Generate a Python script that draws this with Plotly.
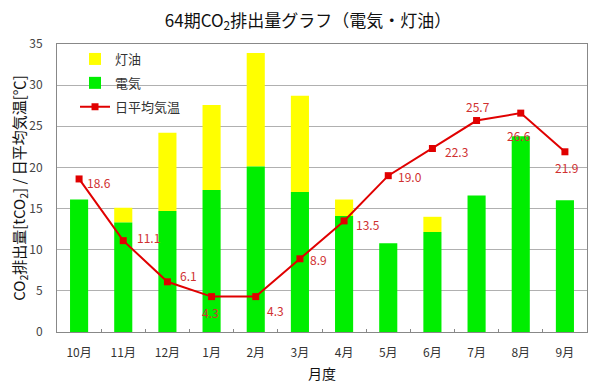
import plotly.graph_objects as go

months = ["10月", "11月", "12月", "1月", "2月", "3月", "4月", "5月", "6月", "7月", "8月", "9月"]
electric = [16.1, 13.3, 14.7, 17.25, 20.1, 17.0, 14.1, 10.8, 12.15, 16.6, 23.8, 16.0]
kerosene = [0.0, 1.8, 9.5, 10.35, 13.8, 11.7, 2.0, 0.0, 1.85, 0.0, 0.0, 0.0]
temperature = [18.6, 11.1, 6.1, 4.3, 4.3, 8.9, 13.5, 19.0, 22.3, 25.7, 26.6, 21.9]

# label placement offsets (pixels) relative to each point
label_dx = [6, 12, 11, -1, 9, 8, 10, 8, 11, 1, -2, 2]
label_dy = [-4, 3, 6, -16, -14, -1, -4, -1, -3, 14, -22, -16]
label_anchor = ["left", "left", "left", "center", "left", "left", "left", "left", "left", "center", "center", "center"]

FONT = "Noto Sans CJK JP"

fig = go.Figure()
fig.add_trace(go.Bar(x=months, y=kerosene, base=electric, name="灯油",
                     marker=dict(color="#ffff00", line=dict(width=0)),
                     width=0.41, legendgroup="a"))
fig.add_trace(go.Bar(x=months, y=electric, name="電気", marker=dict(color="#00ee00", line=dict(width=0)),
                     width=0.41, legendgroup="b"))
fig.add_trace(go.Scatter(x=months, y=temperature, name="日平均気温", mode="lines+markers",
                         line=dict(color="#e00000", width=2),
                         marker=dict(symbol="square", size=7, color="#e00000"),
                         legendgroup="c"))

for m, t, dx, dy, an in zip(months, temperature, label_dx, label_dy, label_anchor):
    fig.add_annotation(x=m, y=t, text=f"{t:.1f}", showarrow=False, xanchor=an, yanchor="middle",
                       xshift=dx, yshift=dy, font=dict(color="#d03030", size=12, family=FONT))

fig.update_layout(
    width=600, height=391,
    barmode="overlay",
    plot_bgcolor="white", paper_bgcolor="white",
    margin=dict(l=49, r=21, t=36, b=67, autoexpand=False),
    font=dict(family=FONT, size=12, color="#222"),
    title=dict(text="64期CO<sub>2</sub>排出量グラフ（電気・灯油）", x=0.5, xanchor="center",
               y=0.967, yanchor="middle", font=dict(size=17, family=FONT, color="#111")),
    legend=dict(x=0.034, y=1.0, xanchor="left", yanchor="top", bgcolor="rgba(0,0,0,0)",
                font=dict(size=13, family=FONT, color="#333"), tracegroupgap=4, traceorder="grouped"),
    showlegend=True,
)
fig.update_xaxes(
    automargin=False,
    range=[-0.5, len(months) - 0.5],
    title=dict(text="月度", font=dict(size=14, family=FONT, color="#111"), standoff=9),
    showline=True, linecolor="#888", linewidth=1, mirror=True,
    ticks="inside", tickson="boundaries", ticklen=3, tickcolor="#888",
    ticklabelstandoff=10,
    tickfont=dict(size=12, family=FONT, color="#333"),
)
fig.update_yaxes(
    automargin=False,
    title=dict(text="CO<sub>2</sub>排出量[tCO<sub>2</sub>] / 日平均気温[℃]", font=dict(size=15, family=FONT, color="#111"), standoff=1),
    range=[0, 35], dtick=5, showgrid=True, gridcolor="#b0b0b0", gridwidth=1,
    showline=True, linecolor="#888", linewidth=1, mirror=True,
    ticklabelstandoff=11,
    tickfont=dict(size=12, family=FONT, color="#444"), zeroline=False,
)

fig.write_html("out.html")
